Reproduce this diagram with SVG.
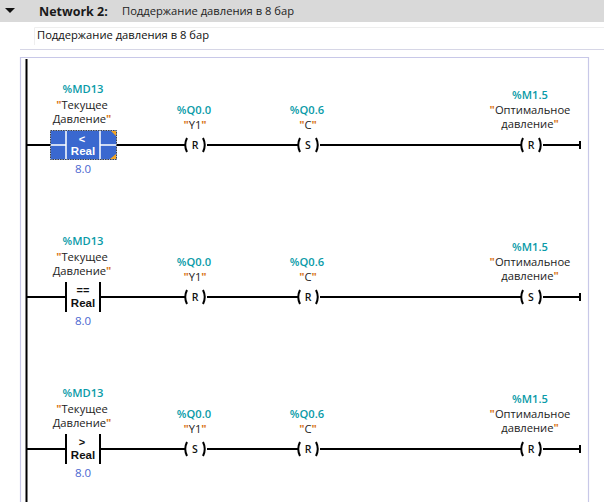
<svg xmlns="http://www.w3.org/2000/svg" width="604" height="502" viewBox="0 0 604 502">
<style>
text{font-family:"Open Sans","Noto Sans","Liberation Sans",sans-serif;text-anchor:middle;font-size:11.200px;fill:#222}
.addr{fill:#0a9ba8;font-weight:600;font-size:11.200px}
.val{fill:#4a66d0;font-size:11.500px}
.q{fill:#d9761a;font-weight:700}
.h{text-anchor:start}
.w{stroke:#000;stroke-width:2;fill:none}
.coil{font-weight:600;font-size:10.500px;fill:#111}
.op{font-family:"Liberation Sans",sans-serif;font-weight:700;font-size:11.500px;fill:#111}
.sym{font-family:"Liberation Sans",sans-serif;font-weight:700;font-size:11px;fill:#111}
.wt{fill:#fff}
</style>
<rect width="604" height="502" fill="#fff"/>
<g id="header">
<rect x="0" y="0" width="604" height="22" fill="#d9d9d9"/>
<polygon points="5,8 15,8 10,13" fill="#111"/>
<text class="h" x="39" y="16" style="font-weight:700;font-size:12.500px;fill:#1a1a1a">Network 2:</text>
<text class="h" x="122" y="15" style="font-size:11.200px">Поддержание давления в 8 бар</text>
</g>
<g id="comment">
<path d="M34.500 45V27.500H604" fill="none" stroke="#eeeeee"/>
<text class="h" x="37" y="39" style="font-size:11.200px;fill:#111">Поддержание давления в 8 бар</text>
<path d="M20 49.500H604" stroke="#d6d6e6"/>
</g>
<g id="frame">
<path d="M20.500 502V57.500H588.500V502" fill="none" stroke="#c8c8e8" stroke-width="1.200"/>
</g>
<g id="connectors">
<path class="w" d="M26.500 59V502"/>
<path class="w" d="M27 145H50M117 145H185M207 145H298M320 145H521M543 145H580M580 141V149" />
<path class="w" d="M27 297H65M101 297H185M207 297H298M320 297H521M543 297H580M580 293V301" />
<path class="w" d="M27 449H65M101 449H185M207 449H298M320 449H521M543 449H580M580 445V453" />
</g>
<g id="cmp1">
<text class="addr" x="83" y="93">%MD13</text>
<text x="82" y="109"><tspan class="q">"</tspan>Текущее</text>
<text x="82" y="123">Давление<tspan class="q">"</tspan></text>
<rect x="50.500" y="130.500" width="66" height="29" fill="#3a68cf" stroke="#444" stroke-dasharray="1.500 1"/>
<path d="M66 131V159M100 131V159M51 145H66M100 145H116" stroke="#fff" stroke-width="1.500"/>
<polygon points="111,131 116,131 116,136" fill="#f5a623"/>
<polygon points="116,154 116,159 110,159" fill="#f5a623"/>
<text x="82" y="143" class="sym wt" style="fill:#fff">&lt;</text>
<text x="83" y="155" class="op wt" style="fill:#fff">Real</text>
<text class="val" x="83" y="173">8.0</text>
</g>
<g id="cmp2">
<text class="addr" x="83" y="245">%MD13</text>
<text x="82" y="261"><tspan class="q">"</tspan>Текущее</text>
<text x="82" y="275">Давление<tspan class="q">"</tspan></text>
<path class="w" d="M66 282V312M100 282V312"/>
<text x="83" y="294" class="sym">==</text>
<text x="83" y="307" class="op">Real</text>
<text class="val" x="83" y="325">8.0</text>
</g>
<g id="cmp3">
<text class="addr" x="83" y="397">%MD13</text>
<text x="82" y="413"><tspan class="q">"</tspan>Текущее</text>
<text x="82" y="427">Давление<tspan class="q">"</tspan></text>
<path class="w" d="M66 434V464M100 434V464"/>
<text x="82" y="446" class="sym">&gt;</text>
<text x="83" y="459" class="op">Real</text>
<text class="val" x="83" y="477">8.0</text>
</g>
<g id="y1-1">
<text class="addr" x="194" y="114">%Q0.0</text>
<text x="195" y="129"><tspan class="q">"</tspan>Y1<tspan class="q">"</tspan></text>
<path class="w" d="M187 138Q183.500 145 187 152M203 138Q206.500 145 203 152"/>
<text class="coil" x="195" y="149">R</text>
</g>
<g id="c-1">
<text class="addr" x="307" y="114">%Q0.6</text>
<text x="308" y="129"><tspan class="q">"</tspan>C<tspan class="q">"</tspan></text>
<path class="w" d="M300 138Q296.500 145 300 152M316 138Q319.500 145 316 152"/>
<text class="coil" x="308" y="149">S</text>
</g>
<g id="m-1">
<text class="addr" x="530" y="99">%M1.5</text>
<text x="530" y="114"><tspan class="q">"</tspan>Оптимальное</text>
<text x="530" y="128">давление<tspan class="q">"</tspan></text>
<path class="w" d="M523 138Q519.500 145 523 152M539 138Q542.500 145 539 152"/>
<text class="coil" x="531" y="149">R</text>
</g>
<g id="y1-2">
<text class="addr" x="194" y="266">%Q0.0</text>
<text x="195" y="281"><tspan class="q">"</tspan>Y1<tspan class="q">"</tspan></text>
<path class="w" d="M187 290Q183.500 297 187 304M203 290Q206.500 297 203 304"/>
<text class="coil" x="195" y="301">R</text>
</g>
<g id="c-2">
<text class="addr" x="307" y="266">%Q0.6</text>
<text x="308" y="281"><tspan class="q">"</tspan>C<tspan class="q">"</tspan></text>
<path class="w" d="M300 290Q296.500 297 300 304M316 290Q319.500 297 316 304"/>
<text class="coil" x="308" y="301">R</text>
</g>
<g id="m-2">
<text class="addr" x="530" y="251">%M1.5</text>
<text x="530" y="266"><tspan class="q">"</tspan>Оптимальное</text>
<text x="530" y="280">давление<tspan class="q">"</tspan></text>
<path class="w" d="M523 290Q519.500 297 523 304M539 290Q542.500 297 539 304"/>
<text class="coil" x="531" y="301">S</text>
</g>
<g id="y1-3">
<text class="addr" x="194" y="418">%Q0.0</text>
<text x="195" y="433"><tspan class="q">"</tspan>Y1<tspan class="q">"</tspan></text>
<path class="w" d="M187 442Q183.500 449 187 456M203 442Q206.500 449 203 456"/>
<text class="coil" x="195" y="453">S</text>
</g>
<g id="c-3">
<text class="addr" x="307" y="418">%Q0.6</text>
<text x="308" y="433"><tspan class="q">"</tspan>C<tspan class="q">"</tspan></text>
<path class="w" d="M300 442Q296.500 449 300 456M316 442Q319.500 449 316 456"/>
<text class="coil" x="308" y="453">R</text>
</g>
<g id="m-3">
<text class="addr" x="530" y="403">%M1.5</text>
<text x="530" y="418"><tspan class="q">"</tspan>Оптимальное</text>
<text x="530" y="432">давление<tspan class="q">"</tspan></text>
<path class="w" d="M523 442Q519.500 449 523 456M539 442Q542.500 449 539 456"/>
<text class="coil" x="531" y="453">R</text>
</g>
</svg>
